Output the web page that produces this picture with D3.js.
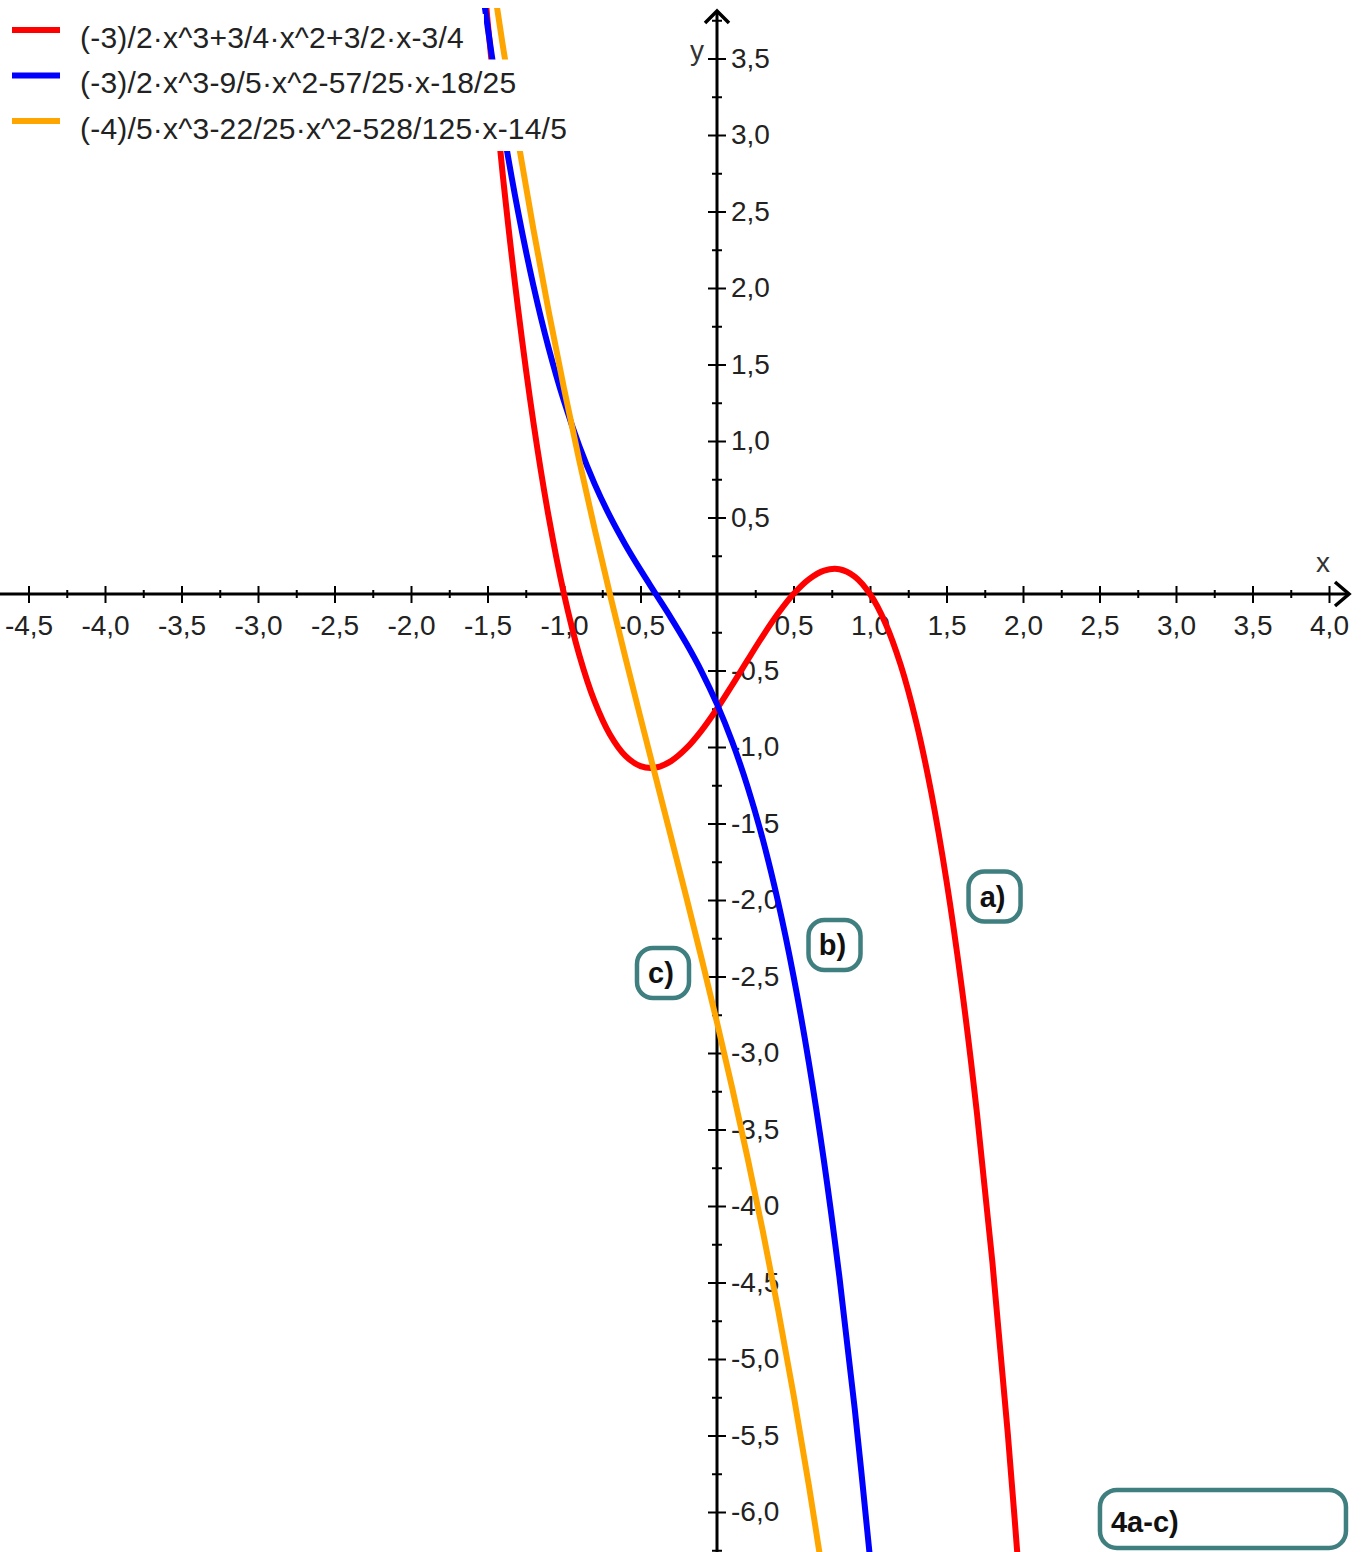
<!DOCTYPE html>
<html>
<head>
<meta charset="utf-8">
<script src="https://cdn.jsdelivr.net/npm/d3@7"></script>
<style>
body { margin: 0; background: #fff; }
svg { display: block; }
.tick text { font-family: "Liberation Sans", Arial, sans-serif; font-size: 28px; fill: #222; }
.leg text { font-family: "Liberation Sans", Arial, sans-serif; font-size: 30px; letter-spacing: 0.2px; fill: #222; }
.tag text { font-family: "Liberation Sans", Arial, sans-serif; font-size: 29px; font-weight: bold; fill: #111; }
</style>
</head>
<body>
<div id="chart"></div>
<script>
// curve samples
var redX = [-1.6,-1.5,-1.4,-1.3,-1.2,-1.1,-1.0,-0.9,-0.8,-0.7,-0.6,-0.5,-0.4,-0.3,-0.2,-0.1,0,
            0.1,0.2,0.3,0.4,0.5,0.6,0.7,0.8,0.9,1.0,1.1,1.2,1.3,1.4,1.5,1.6,1.7,1.8,1.9,2.0];
var redY = [4.914,3.75,2.736,1.863,1.122,0.504,0,-0.399,-0.702,-0.918,-1.056,-1.125,-1.134,-1.092,-1.008,-0.891,-0.75,
            -0.594,-0.432,-0.273,-0.126,0,0.096,0.153,0.162,0.114,0,-0.189,-0.462,-0.828,-1.296,-1.875,-2.574,-3.402,-4.368,-5.481,-6.75];

var blueX = [-1.6,-1.5,-1.4,-1.3,-1.2,-1.1,-1.0,-0.9,-0.8,-0.7,-0.6,-0.5,-0.4,-0.3,
             -0.2,-0.1,0,0.1,0.2,0.3,0.4,0.5,0.6,0.7,0.8,0.9,1.0];
var blueY = [4.464,3.7125,3.06,2.4975,2.016,1.6065,1.26,0.9675,0.72,0.5085,0.324,0.1575,0,-0.1575,
             -0.324,-0.5085,-0.72,-0.9675,-1.26,-1.6065,-2.016,-2.4975,-3.06,-3.7125,-4.464,-5.3235,-6.3];

var orangeX = [-1.5,-1.4,-1.3,-1.2,-1.1,-1.0,-0.9,-0.8,-0.7,-0.6,-0.5,-0.4,-0.3,-0.2,-0.1,0,
               0.1,0.2,0.3,0.4,0.5,0.6,0.7];
var orangeY = [4.256,3.584,2.9616,2.384,1.8464,1.344,0.872,0.4256,0,-0.4096,-0.808,-1.2,-1.5904,-1.984,-2.3856,-2.8,
               -3.232,-3.6864,-4.168,-4.6816,-5.232,-5.824,-6.4624];

var legendLabels = ["(-3)/2\u00b7x^3+3/4\u00b7x^2+3/2\u00b7x-3/4",
                    "(-3)/2\u00b7x^3-9/5\u00b7x^2-57/25\u00b7x-18/25",
                    "(-4)/5\u00b7x^3-22/25\u00b7x^2-528/125\u00b7x-14/5"];
var colors = ["#ff0000", "#0000ff", "#ffa500"];

var xMajor = [-4.5,-4,-3.5,-3,-2.5,-2,-1.5,-1,-0.5,0.5,1,1.5,2,2.5,3,3.5,4];
var yMajor = [3.5,3,2.5,2,1.5,1,0.5,-0.5,-1,-1.5,-2,-2.5,-3,-3.5,-4,-4.5,-5,-5.5,-6];
var xMinor = [-4.25,-3.75,-3.25,-2.75,-2.25,-1.75,-1.25,-0.75,-0.25,0.25,0.75,1.25,1.75,2.25,2.75,3.25,3.75];
var yMinor = [3.75,3.25,2.75,2.25,1.75,1.25,0.75,0.25,-0.25,-0.75,-1.25,-1.75,-2.25,-2.75,-3.25,-3.75,-4.25,-4.75,-5.25,-5.75,-6.25];

// part labels, anchored in data units
var tagText = ["a)", "b)", "c)"];
var tagX = [1.814, 0.768, -0.353];
var tagY = [-1.977, -2.294, -2.477];
var titleText = "4a-c)";
var titleX = 2.49, titleY = -5.843;

var width = 1370, height = 1552;
var teal = "#3f7f7f";

var x = d3.scaleLinear().domain([-4.5, 4]).range([28.5, 1329]);
var y = d3.scaleLinear().domain([-6, 3.5]).range([1512, 58.5]);

var fmt = function(d) { return d.toFixed(1).replace(".", ","); };

var svg = d3.select("#chart").append("svg")
    .attr("width", width)
    .attr("height", height);

svg.append("defs").append("clipPath")
    .attr("id", "clip")
    .append("rect")
    .attr("x", 0).attr("y", 8)
    .attr("width", width).attr("height", height - 8);

//x axis
var gx = svg.append("g")
    .attr("transform", "translate(0," + y(0) + ")");
gx.append("g")
    .call(d3.axisBottom(x).tickValues(xMinor).tickSize(4).tickFormat(""))
    .call(function(g) { g.select(".domain").remove(); g.selectAll("line").attr("y1", -4).attr("stroke-width", 2); });
gx.append("g")
    .call(d3.axisBottom(x).tickValues(xMajor).tickSize(9).tickPadding(12).tickFormat(fmt))
    .call(function(g) {
        g.select(".domain").remove();
        g.selectAll("line").attr("y1", -8).attr("stroke-width", 2);
        g.selectAll("text").attr("font-family", null).attr("font-size", null);
    });
gx.append("line")
    .attr("x1", 0).attr("x2", 1349)
    .attr("stroke", "#000").attr("stroke-width", 3);
gx.append("polyline")
    .attr("points", "1335,-12 1349,0 1335,12")
    .attr("fill", "none").attr("stroke", "#000").attr("stroke-width", 3.5);
gx.append("text")
    .attr("x", 1323).attr("y", -22)
    .attr("text-anchor", "middle")
    .style("font-family", "Liberation Sans, Arial, sans-serif").style("font-size", "28px").style("fill", "#333")
    .text("x");

//y axis
var gy = svg.append("g")
    .attr("transform", "translate(" + x(0) + ",0)");
gy.append("g")
    .call(d3.axisRight(y).tickValues(yMinor).tickSize(5).tickFormat(""))
    .call(function(g) { g.select(".domain").remove(); g.selectAll("line").attr("x1", -5).attr("stroke-width", 2); });
gy.append("g")
    .call(d3.axisRight(y).tickValues(yMajor).tickSize(9).tickPadding(5).tickFormat(fmt))
    .call(function(g) {
        g.select(".domain").remove();
        g.selectAll("line").attr("x1", -9).attr("stroke-width", 2);
        g.selectAll("text").attr("font-family", null).attr("font-size", null);
    });
gy.append("line")
    .attr("y1", 11).attr("y2", height)
    .attr("stroke", "#000").attr("stroke-width", 3);
gy.append("polyline")
    .attr("points", "-12,23 0,11 12,23")
    .attr("fill", "none").attr("stroke", "#000").attr("stroke-width", 3.5);
gy.append("text")
    .attr("x", -20).attr("y", 60)
    .attr("text-anchor", "middle")
    .style("font-family", "Liberation Sans, Arial, sans-serif").style("font-size", "28px").style("fill", "#333")
    .text("y");

//curves
var series = [[redX, redY], [blueX, blueY], [orangeX, orangeY]];
var line = d3.line()
    .x(function(d) { return x(d[0]); })
    .y(function(d) { return y(d[1]); })
    .curve(d3.curveCatmullRom.alpha(0.5));

var plot = svg.append("g").attr("clip-path", "url(#clip)");
series.forEach(function(s, i) {
    plot.append("path")
        .datum(d3.zip(s[0], s[1]))
        .attr("d", line)
        .attr("fill", "none")
        .attr("stroke", colors[i])
        .attr("stroke-width", 6);
});

//legend, white rows hide the curves behind them
var leg = svg.append("g").attr("class", "leg");
legendLabels.forEach(function(t, i) {
    var cy = 37 + i * 45.5;
    var row = leg.append("g");
    var bg = row.append("rect").attr("fill", "#fff");
    row.append("rect")
        .attr("x", 12).attr("y", cy - 10)
        .attr("width", 48).attr("height", 6)
        .attr("fill", colors[i]);
    var txt = row.append("text")
        .attr("x", 80).attr("y", cy)
        .attr("dy", "0.35em")
        .text(t);
    var w = txt.node().getComputedTextLength();
    bg.attr("x", 0).attr("y", cy - 23).attr("width", 80 + w + 20).attr("height", 46);
});

//part labels
var tags = svg.append("g").attr("class", "tag");
tagText.forEach(function(t, i) {
    var cx = x(tagX[i]), cy = y(tagY[i]);
    tags.append("rect")
        .attr("x", cx - 26).attr("y", cy - 25)
        .attr("width", 52).attr("height", 50)
        .attr("rx", 16)
        .attr("fill", "#fff")
        .attr("stroke", teal).attr("stroke-width", 4.5);
    tags.append("text")
        .attr("x", cx - 2).attr("y", cy)
        .attr("dy", "0.36em")
        .attr("text-anchor", "middle")
        .text(t);
});

var tx = x(titleX), ty = y(titleY);
tags.append("rect")
    .attr("x", tx + 2).attr("y", ty + 2)
    .attr("width", 246).attr("height", 58)
    .attr("rx", 17)
    .attr("fill", "#fff")
    .attr("stroke", teal).attr("stroke-width", 4.5);
tags.append("text")
    .attr("x", tx + 13).attr("y", ty + 44)
    .text(titleText);
</script>
</body>
</html>
